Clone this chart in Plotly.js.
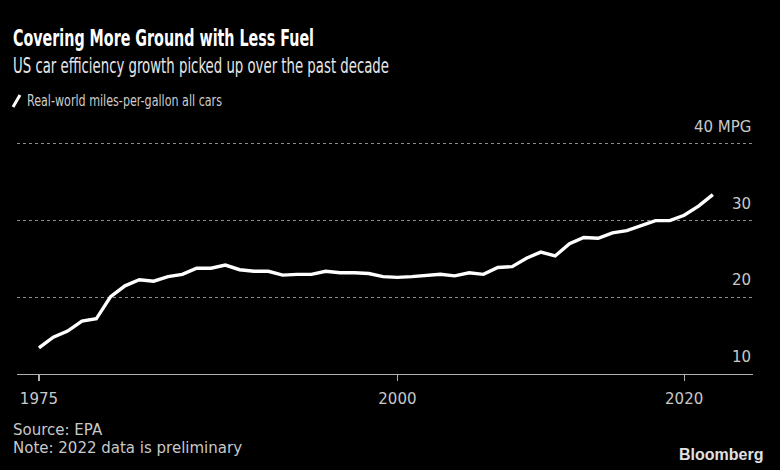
<!DOCTYPE html>
<html>
<head>
<meta charset="utf-8">
<script src="https://cdn.plot.ly/plotly-3.0.1.min.js"></script>
<style>
  html, body { margin: 0; padding: 0; background: #000; }
  #chart { width: 780px; height: 470px; }
</style>
</head>
<body>
<div id="chart"></div>
<script>
// Data
const years = [1975,1976,1977,1978,1979,1980,1981,1982,1983,1984,1985,1986,1987,1988,1989,
  1990,1991,1992,1993,1994,1995,1996,1997,1998,1999,2000,2001,2002,2003,2004,2005,2006,2007,
  2008,2009,2010,2011,2012,2013,2014,2015,2016,2017,2018,2019,2020,2021,2022];
const mpg = [13.4,14.8,15.6,16.9,17.2,20.1,21.5,22.3,22.1,22.7,23.0,23.8,23.8,24.2,23.6,
  23.4,23.4,22.9,23.0,23.0,23.4,23.2,23.2,23.1,22.7,22.6,22.7,22.9,23.0,22.8,23.2,23.0,23.9,
  24.0,25.1,25.9,25.4,27.0,27.8,27.7,28.4,28.7,29.4,30.0,30.0,30.7,31.9,33.4];
const seriesName = "Real-world miles-per-gallon all cars";
const yTickVals = [10, 20, 30, 40];
const yTickText = ["10", "20", "30", "40 MPG"];
const xTickVals = [1975, 2000, 2020];
const xTickText = ["1975", "2000", "2020"];
const titleText = "Covering More Ground with Less Fuel";
const subtitleText = "US car efficiency growth picked up over the past decade";
const sourceText = "Source: EPA";
const noteText = "Note: 2022 data is preliminary";

const NARROW = '"DejaVu Sans Condensed", "DejaVu Sans", sans-serif';
const FONT = '"DejaVu Sans", sans-serif';

// geometry helpers (pixel -> paper)
const W = 780, H = 470, ML = 17, MR = 27, MT = 140, MB = 96;
const PW = W - ML - MR, PH = H - MT - MB;
const px = x => (x - ML) / PW;
const py = y => (H - MB - y) / PH;

const trace = {
  x: years, y: mpg, type: 'scatter', mode: 'lines', name: seriesName,
  line: { color: '#ffffff', width: 3.4 }, hoverinfo: 'x+y'
};

const annotations = [
  { text: '<b>' + titleText + '</b>', x: px(11), y: py(38), xref: 'paper', yref: 'paper',
    xanchor: 'left', yanchor: 'middle', showarrow: false,
    font: { family: NARROW, size: 23, color: '#ffffff' } },
  { text: subtitleText, x: px(11), y: py(65), xref: 'paper', yref: 'paper',
    xanchor: 'left', yanchor: 'middle', showarrow: false,
    font: { family: NARROW, size: 22, color: '#e6e6e6' } },
  { text: seriesName, x: px(25), y: py(101), xref: 'paper', yref: 'paper',
    xanchor: 'left', yanchor: 'middle', showarrow: false,
    font: { family: NARROW, size: 16, color: '#cccccc' } },
  { text: sourceText, x: px(11), y: py(430), xref: 'paper', yref: 'paper',
    xanchor: 'left', yanchor: 'middle', showarrow: false,
    font: { family: FONT, size: 15, color: '#c8c8c8' } },
  { text: noteText, x: px(11), y: py(448), xref: 'paper', yref: 'paper',
    xanchor: 'left', yanchor: 'middle', showarrow: false,
    font: { family: FONT, size: 15, color: '#c8c8c8' } },
  { text: '<b>Bloomberg</b>', x: px(765), y: py(454), xref: 'paper', yref: 'paper',
    xanchor: 'right', yanchor: 'middle', showarrow: false,
    font: { family: '"Liberation Sans", Arial, sans-serif', size: 16, color: '#e0e0e0' } }
];
// y tick labels sitting above their gridlines, right-aligned
yTickVals.forEach((v, i) => annotations.push({
  text: yTickText[i], x: px(753), y: v, xref: 'paper', yref: 'y',
  xanchor: 'right', yanchor: 'middle', yshift: 17, showarrow: false,
  font: { family: FONT, size: 15, color: '#c8c8c8' }
}));

const shapes = [
  // legend swatch (slash)
  { type: 'line', xref: 'paper', yref: 'paper', x0: px(13), y0: py(107), x1: px(20), y1: py(95),
    line: { color: '#ffffff', width: 3 } }
];

const layout = {
  width: W, height: H,
  margin: { l: ML, r: MR, t: MT, b: MB, pad: 0 },
  paper_bgcolor: '#000000', plot_bgcolor: '#000000',
  showlegend: false,
  xaxis: {
    range: [1973.47, 2024.8], tickvals: xTickVals, ticktext: xTickText,
    showgrid: false, zeroline: false, showline: true, linecolor: '#b0b0b0', linewidth: 1.2,
    ticks: 'outside', ticklen: 6, tickwidth: 1.2, tickcolor: '#b0b0b0',
    ticklabelstandoff: 5,
    tickfont: { family: FONT, size: 15, color: '#c8c8c8' }, fixedrange: true
  },
  yaxis: {
    range: [10, 40.52], tickvals: yTickVals, showticklabels: false, ticks: '',
    showgrid: true, gridcolor: '#8a8a8a', griddash: 'dot', gridwidth: 1,
    zeroline: false, showline: false, fixedrange: true
  },
  annotations: annotations,
  shapes: shapes
};

// horizontally condense a heading annotation to the reference's text width
function squeeze(idx, width) {
  const t = document.querySelector('.annotation[data-index="' + idx + '"] text.annotation-text');
  if (!t) return;
  const b0 = t.getBBox();
  t.setAttribute('textLength', width);
  t.setAttribute('lengthAdjust', 'spacingAndGlyphs');
  const b1 = t.getBBox();
  const prev = t.getAttribute('transform') || '';
  t.setAttribute('transform', (prev + ' translate(' + (b0.x - b1.x) + ',0)').trim());
}

Plotly.newPlot('chart', [trace], layout, { displayModeBar: false, staticPlot: true })
  .then(() => {
    squeeze(0, 301);
    squeeze(1, 376);
    squeeze(2, 195);
  });
</script>
</body>
</html>
